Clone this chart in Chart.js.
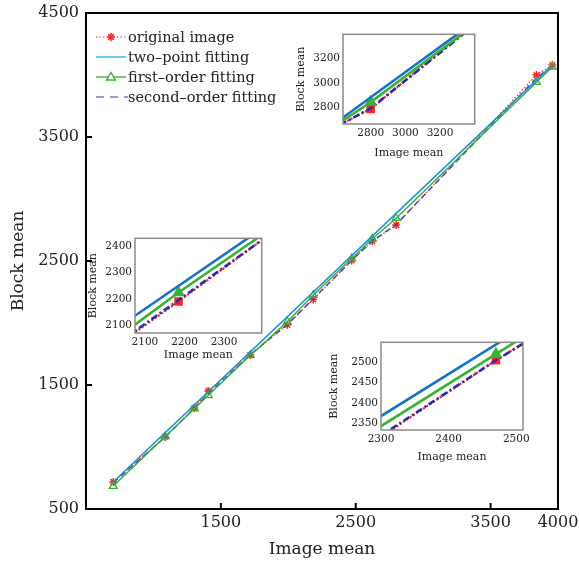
<!DOCTYPE html>
<html>
<head>
<meta charset="utf-8">
<script src="https://cdn.jsdelivr.net/npm/chart.js@4"></script>
<style>
body { margin: 0; background: #fff; }
#wrap { position: relative; width: 579px; height: 561px; }
canvas { position: absolute; }
</style>
</head>
<body>
<div id="wrap">
<canvas id="mainChart" width="579" height="561" style="left:0;top:0"></canvas>
<canvas id="insetTop" width="190" height="133" style="left:292px;top:27px"></canvas>
<canvas id="insetLeft" width="185" height="131" style="left:84px;top:231px"></canvas>
<canvas id="insetRight" width="215" height="129" style="left:325px;top:335px"></canvas>
</div>
<script>
// values
const imageMean = [702, 1087, 1303, 1407, 1718, 1993, 2185, 2470, 2623, 2800, 3840, 3958];
const originalImage = [718, 1081, 1315, 1452, 1742, 1985, 2190, 2505, 2660, 2790, 4000, 4080];
const twoPointX = [702, 3958];
const twoPoint = [718, 4080];
const firstOrder = [685, 1085, 1309, 1417, 1740, 2010, 2224, 2520, 2679, 2845, 3942, 4065];
const secondOrder = [712, 1080, 1312, 1430, 1745, 1990, 2195, 2505, 2660, 2795, 3975, 4075];

const mainXTicks = [1500, 2500, 3500, 4000];
const mainYTicks = [500, 1500, 2500, 3500, 4500];
const topXTicks = [2800, 3000, 3200];
const topYTicks = [2800, 3000, 3200];
const leftXTicks = [2100, 2200, 2300];
const leftYTicks = [2100, 2200, 2300, 2400];
const rightXTicks = [2300, 2400, 2500];
const rightYTicks = [2350, 2400, 2450, 2500];

const FONT = "'DejaVu Serif', serif";
const RED = '#ff2424', BLUE = '#1a92dc', GREEN = '#3cb034', PURPLE = '#4a44bc';

function pts(xs, ys) {
    return xs.map((x, i) => ({ x: x, y: ys[i] }));
}

function fixedTicks(list) {
    return function (scale) { scale.ticks = list.map(v => ({ value: v })); };
}

const framePlugin = {
    id: 'frame',
    beforeDatasetsDraw(chart, args, opts) {
        if (!opts.fill) return;
        const a = chart.chartArea, ctx = chart.ctx;
        ctx.save();
        ctx.fillStyle = '#fff';
        ctx.fillRect(a.left, a.top, a.right - a.left, a.bottom - a.top);
        ctx.restore();
    },
    afterDatasetsDraw(chart, args, opts) {
        const a = chart.chartArea, ctx = chart.ctx;
        ctx.save();
        ctx.strokeStyle = opts.color;
        ctx.lineWidth = opts.width;
        ctx.strokeRect(a.left, a.top, a.right - a.left, a.bottom - a.top);
        if (opts.tickLen) {
            ctx.beginPath();
            chart.scales.x.ticks.forEach(t => {
                const px = chart.scales.x.getPixelForValue(t.value);
                if (px > a.left + 2 && px < a.right - 2) {
                    ctx.moveTo(px, a.bottom);
                    ctx.lineTo(px, a.bottom - opts.tickLen);
                }
            });
            chart.scales.y.ticks.forEach(t => {
                const py = chart.scales.y.getPixelForValue(t.value);
                if (py > a.top + 2 && py < a.bottom - 2) {
                    ctx.moveTo(a.left, py);
                    ctx.lineTo(a.left + opts.tickLen, py);
                }
            });
            ctx.stroke();
        }
        ctx.restore();
    }
};

const legendPlugin = {
    id: 'plotLegend',
    afterDatasetsDraw(chart) {
        const ctx = chart.ctx;
        const items = ['original image', 'two\u2013point fitting', 'first\u2013order fitting', 'second\u2013order fitting'];
        const x0 = 96, x1 = 126, ys = [37, 57, 77, 97];
        ctx.save();
        ctx.font = '14.5px ' + FONT;
        ctx.fillStyle = '#222';
        ctx.textBaseline = 'middle';
        items.forEach((t, i) => ctx.fillText(t, x1 + 2, ys[i] + 1));
        // original image
        ctx.strokeStyle = RED; ctx.lineWidth = 1.2; ctx.setLineDash([1.5, 2]);
        ctx.beginPath(); ctx.moveTo(x0, ys[0]); ctx.lineTo(x1, ys[0]); ctx.stroke();
        ctx.setLineDash([]);
        ctx.lineWidth = 1.6;
        for (let k = 0; k < 4; k++) {
            const ang = k * Math.PI / 4;
            ctx.beginPath();
            ctx.moveTo(111 - 4 * Math.cos(ang), ys[0] - 4 * Math.sin(ang));
            ctx.lineTo(111 + 4 * Math.cos(ang), ys[0] + 4 * Math.sin(ang));
            ctx.stroke();
        }
        // two-point
        ctx.strokeStyle = '#30b4f0'; ctx.lineWidth = 1.4;
        ctx.beginPath(); ctx.moveTo(x0, ys[1]); ctx.lineTo(x1, ys[1]); ctx.stroke();
        // first-order
        ctx.strokeStyle = GREEN; ctx.lineWidth = 1.4;
        ctx.beginPath(); ctx.moveTo(x0, ys[2]); ctx.lineTo(x1, ys[2]); ctx.stroke();
        ctx.fillStyle = '#fff';
        ctx.beginPath();
        ctx.moveTo(111, ys[2] - 4.5); ctx.lineTo(115.5, ys[2] + 3); ctx.lineTo(106.5, ys[2] + 3); ctx.closePath();
        ctx.fill(); ctx.stroke();
        // second-order
        ctx.strokeStyle = '#7a78cc'; ctx.lineWidth = 1.4; ctx.setLineDash([8, 6]);
        ctx.beginPath(); ctx.moveTo(x0, ys[3]); ctx.lineTo(x1 + 2, ys[3]); ctx.stroke();
        ctx.restore();
    }
};

function makeDatasets(inset) {
    return [
        {
            label: 'original image',
            data: pts(imageMean, originalImage),
            showLine: true,
            borderColor: RED,
            borderWidth: inset ? 2.2 : 1.2,
            borderDash: inset ? [2, 2] : [1.5, 2],
            pointStyle: inset ? 'rect' : 'star',
            pointRadius: inset ? 5 : 4,
            pointBackgroundColor: RED,
            pointBorderColor: RED,
            pointBorderWidth: 1.5,
            order: 3
        },
        {
            label: 'two-point fitting',
            data: pts(twoPointX, twoPoint),
            showLine: true,
            borderColor: inset ? '#1673c4' : BLUE,
            borderWidth: inset ? 2.6 : 1.6,
            pointRadius: 0,
            order: 0
        },
        {
            label: 'first-order fitting',
            data: pts(imageMean, firstOrder),
            showLine: true,
            borderColor: GREEN,
            borderWidth: inset ? 2.6 : 1.5,
            pointStyle: 'triangle',
            pointRadius: inset ? 6 : 4.5,
            pointBackgroundColor: inset ? GREEN : 'rgba(255,255,255,0)',
            pointBorderColor: GREEN,
            pointBorderWidth: 1.3,
            order: 1
        },
        {
            label: 'second-order fitting',
            data: pts(imageMean, secondOrder),
            showLine: true,
            borderColor: inset ? '#2c2ca8' : PURPLE,
            borderWidth: inset ? 2.6 : 1.5,
            borderDash: inset ? [7, 3, 2, 3] : [6, 4],
            pointRadius: 0,
            order: 2
        }
    ];
}

function axis(min, max, list, title, size, opts) {
    return {
        type: 'linear',
        min: min,
        max: max,
        afterBuildTicks: fixedTicks(list),
        afterFit: s => {
            opts.fit(s);
            // chart area is placed by the layout padding, not by label overflow
            s.paddingLeft = 0; s.paddingRight = 0;
            s.paddingTop = 0; s.paddingBottom = 0;
        },
        grid: { display: false, drawTicks: false },
        border: { display: false },
        ticks: {
            color: '#222',
            padding: opts.pad,
            maxRotation: 0,
            autoSkip: false,
            font: { family: FONT, size: size },
            callback: v => String(v)
        },
        title: {
            display: true,
            text: title,
            color: '#222',
            padding: opts.titlePad,
            font: { family: FONT, size: opts.titleSize }
        }
    };
}

Chart.defaults.animation = false;

new Chart(document.getElementById('mainChart'), {
    type: 'scatter',
    data: { datasets: makeDatasets(false) },
    options: {
        responsive: false,
        events: [],
        layout: { padding: { top: 13, right: 21, left: 0, bottom: 0 } },
        plugins: {
            legend: { display: false },
            tooltip: { enabled: false },
            frame: { color: '#000', width: 2, tickLen: 6 }
        },
        scales: {
            x: axis(500, 4000, mainXTicks, 'Image mean', 16, {
                pad: 4, titleSize: 17, titlePad: { top: 0, bottom: 1 },
                fit: s => { s.height = 52; }
            }),
            y: axis(500, 4500, mainYTicks, 'Block mean', 16, {
                pad: 7, titleSize: 17, titlePad: { top: 8, bottom: 0 },
                fit: s => { s.width = 86; }
            })
        }
    },
    plugins: [framePlugin, legendPlugin]
});

function inset(id, xr, yr, xt, yt, pad, xh, yw) {
    new Chart(document.getElementById(id), {
        type: 'scatter',
        data: { datasets: makeDatasets(true) },
        options: {
            responsive: false,
            events: [],
            layout: { padding: pad },
            plugins: {
                legend: { display: false },
                tooltip: { enabled: false },
                frame: { color: '#8a8a8a', width: 1.5, fill: true }
            },
            scales: {
                x: axis(xr[0], xr[1], xt, 'Image mean', 10.5, {
                    pad: 3, titleSize: 11, titlePad: { top: 0, bottom: 0 },
                    fit: s => { s.height = xh; }
                }),
                y: axis(yr[0], yr[1], yt, 'Block mean', 10.5, {
                    pad: 3, titleSize: 11, titlePad: { top: 3, bottom: 0 },
                    fit: s => { s.width = yw; }
                })
            }
        },
        plugins: [framePlugin]
    });
}

inset('insetTop', [2640, 3400], [2666, 3400], topXTicks, topYTicks,
    { top: 4, right: 3, left: 0, bottom: 0 }, 36, 51);
inset('insetLeft', [2075, 2395], [2070, 2430], leftXTicks, leftYTicks,
    { top: 4, right: 5, left: 0, bottom: 0 }, 29, 51);
inset('insetRight', [2300, 2510], [2334, 2549], rightXTicks, rightYTicks,
    { top: 4, right: 17, left: 0, bottom: 0 }, 34, 56);
</script>
</body>
</html>
